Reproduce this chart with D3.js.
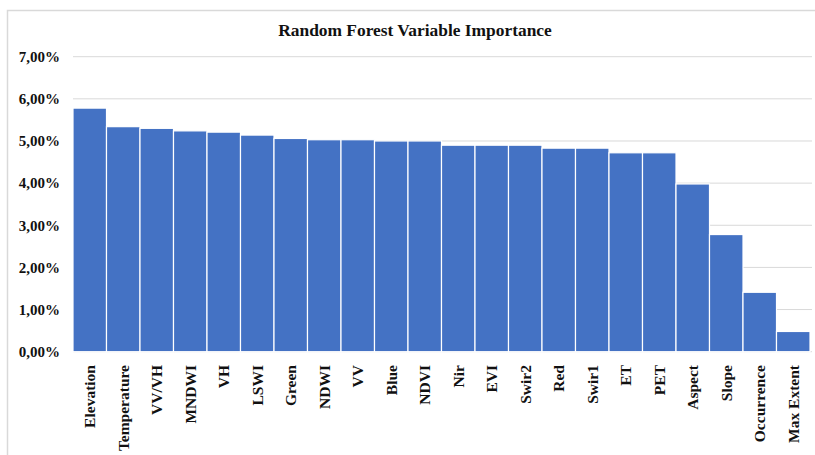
<!DOCTYPE html>
<html>
<head>
<meta charset="utf-8">
<script src="https://cdn.jsdelivr.net/npm/d3@7"></script>
<style>
  html, body { margin: 0; padding: 0; background: #fff; }
  svg { display: block; }
  text { font-family: "Liberation Serif", "Times New Roman", serif; font-weight: bold; fill: #111; }
</style>
</head>
<body>
<svg id="chart" width="815" height="455"></svg>
<script>
// Variable names, in order of decreasing importance
const variables = ["Elevation", "Temperature", "VV/VH", "MNDWI", "VH", "LSWI", "Green", "NDWI", "VV", "Blue", "NDVI",
                   "Nir", "EVI", "Swir2", "Red", "Swir1", "ET", "PET", "Aspect", "Slope", "Occurrence", "Max Extent"];
// Importance (fraction of total)
const importance = [0.0578, 0.0534, 0.0530, 0.0524, 0.0521, 0.0514, 0.0506, 0.0503, 0.0503, 0.0500, 0.0500,
                    0.0490, 0.0490, 0.0490, 0.0483, 0.0483, 0.0472, 0.0472, 0.0398, 0.0278, 0.0141, 0.0048];
const yTicks = [0, 0.01, 0.02, 0.03, 0.04, 0.05, 0.06, 0.07];

const svg = d3.select("#chart");
const left = 73;

// Outer chart frame
svg.append("path")
  .attr("d", "M7.5,455 V10.5 H815")
  .attr("fill", "none")
  .attr("stroke", "#d9d9d9")
  .attr("stroke-width", 1.5);

svg.append("text")
  .attr("x", 415)
  .attr("y", 36)
  .attr("text-anchor", "middle")
  .style("font-size", "17.4px")
  .text("Random Forest Variable Importance");

const x = d3.scaleBand()
  .domain(variables)
  .range([left, 810])
  .paddingInner(0)
  .paddingOuter(0);

const y = d3.scaleLinear()
  .domain([0, 0.07])
  .range([351.7, 56.7]);

const fmt = v => d3.format(".2f")(v * 100).replace(".", ",") + "%";

// Horizontal gridlines
svg.append("g")
  .selectAll("line")
  .data(yTicks)
  .join("line")
  .attr("x1", left)
  .attr("x2", 812)
  .attr("y1", d => y(d))
  .attr("y2", d => y(d))
  .attr("stroke", "#d9d9d9")
  .attr("stroke-width", 1);

// Y-axis tick labels
const yAxis = d3.axisLeft(y).tickValues(yTicks).tickFormat(fmt).tickSize(0).tickPadding(0);
const gy = svg.append("g").attr("transform", "translate(60,0)").call(yAxis);
gy.select(".domain").remove();
gy.selectAll("text")
  .style("font-size", "15px")
  .style("font-family", "'Liberation Serif', 'Times New Roman', serif")
  .style("font-weight", "bold")
  .attr("fill", "#111");

// Bars
svg.append("g")
  .selectAll("rect")
  .data(variables.map((v, i) => ({ name: v, value: importance[i] })))
  .join("rect")
  .attr("x", d => x(d.name))
  .attr("width", x.bandwidth())
  .attr("y", d => y(d.value))
  .attr("height", d => y(0) - y(d.value))
  .attr("fill", "#4472c4")
  .attr("stroke", "#ffffff")
  .attr("stroke-width", 1.2);

// Rotated category labels
const xAxis = d3.axisBottom(x).tickSize(0).tickPadding(0);
const gx = svg.append("g").attr("transform", "translate(0,365)").call(xAxis);
gx.select(".domain").remove();
gx.selectAll("text")
  .attr("transform", "rotate(-90)")
  .attr("x", 0)
  .attr("y", 0)
  .attr("dy", "0.35em")
  .attr("text-anchor", "end")
  .style("font-size", "15.5px")
  .style("font-family", "'Liberation Serif', 'Times New Roman', serif")
  .style("font-weight", "bold")
  .attr("fill", "#111");
</script>
</body>
</html>
